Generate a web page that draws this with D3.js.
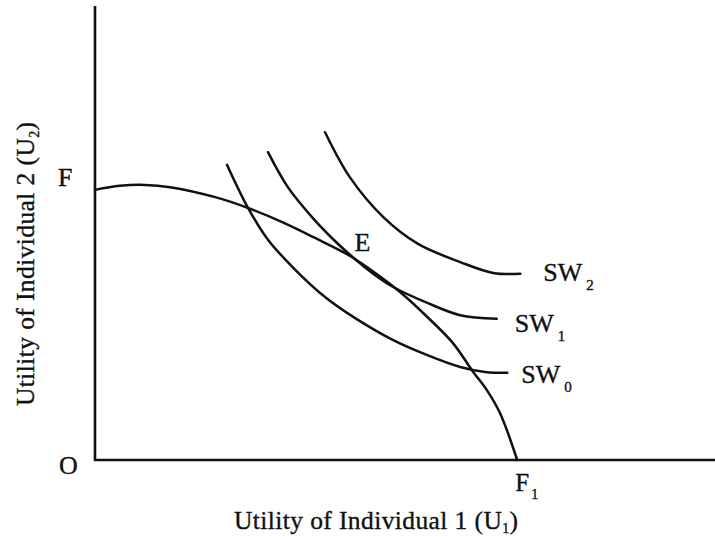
<!DOCTYPE html>
<html>
<head>
<meta charset="utf-8">
<script src="https://cdn.jsdelivr.net/npm/d3@7"></script>
<style>
  html, body { margin: 0; padding: 0; background: #ffffff; }
  svg { display: block; }
  text { font-family: "Liberation Serif", "Times New Roman", serif; fill: #111; stroke: #111; stroke-width: 0.35; }
</style>
</head>
<body>
<svg id="chart" width="715" height="537"></svg>
<script>
// ---- Data (utility units, 0..100 on each axis) ----
const frontierU1 = [0, 4.0, 8.1, 12.1, 19.4, 24.7, 30.2, 35.5, 40.8, 45.2, 49.2, 53.6, 57.7, 61.0, 63.2, 65.3, 68.1];
const frontierU2 = [59.5, 60.4, 60.6, 60.1, 57.9, 55.5, 52.4, 48.9, 45.2, 41.2, 37.0, 31.5, 25.8, 19.4, 15.4, 10.4, 0];

const sw0U1 = [21.3, 24.7, 27.9, 32.3, 37.1, 41.9, 48.1, 53.6, 58.9, 62.9, 66.5];
const sw0U2 = [65.0, 55.5, 48.5, 41.9, 35.9, 31.3, 26.4, 23.1, 20.5, 19.4, 19.2];

const sw1U1 = [27.9, 31.1, 35.0, 38.2, 40.8, 44.7, 48.1, 53.6, 58.9, 64.8];
const sw1U2 = [67.8, 60.1, 53.5, 48.9, 45.6, 41.2, 38.1, 34.6, 31.9, 31.1];

const sw2U1 = [37.1, 41.1, 46.5, 52.1, 58.9, 64.2, 68.6];
const sw2U2 = [72.2, 62.3, 53.5, 47.6, 43.6, 41.2, 41.0];

const curveNames = ["SW", "SW", "SW"];
const curveSubs = ["0", "1", "2"];

const pointE = [41.2, 44.7];
const xTitle = "Utility of Individual 1 (U";
const xTitleSub = "1";
const yTitle = "Utility of Individual 2 (U";
const yTitleSub = "2";

// ---- Scales ----
const svg = d3.select("#chart");
const x = d3.scaleLinear().domain([0, 100]).range([95, 715]);
const y = d3.scaleLinear().domain([0, 100]).range([460, 6]);

const zip = (a, b) => a.map((v, i) => [v, b[i]]);
const line = d3.line()
  .x(d => x(d[0]))
  .y(d => y(d[1]))
  .curve(d3.curveCatmullRom.alpha(0.5));

// ---- Axes (plain lines, no ticks) ----
const ax = svg.append("g").attr("stroke", "#111").attr("stroke-width", 2.6).attr("fill", "none");
ax.append("line").attr("x1", x(0)).attr("x2", x(0)).attr("y1", y(0) + 1).attr("y2", y(100));
ax.append("line").attr("x1", x(0) - 1).attr("x2", x(100)).attr("y1", y(0)).attr("y2", y(0));

// ---- Curves ----
const g = svg.append("g").attr("fill", "none").attr("stroke", "#111")
  .attr("stroke-width", 2.5).attr("stroke-linecap", "round");
g.append("path").attr("d", line(zip(frontierU1, frontierU2)));
const swData = [zip(sw0U1, sw0U2), zip(sw1U1, sw1U2), zip(sw2U1, sw2U2)];
swData.forEach(d => g.append("path").attr("d", line(d)));

// ---- Labels ----
function label(px, py, main, sub, size, subSize, subDy, subDx) {
  const t = svg.append("text").attr("x", px).attr("y", py).attr("font-size", size);
  t.append("tspan").text(main);
  if (sub) {
    t.append("tspan").attr("dx", subDx).attr("dy", subDy).attr("font-size", subSize).text(sub);
  }
  return t;
}

// SW labels, anchored at curve ends
const swOffsets = [[14, 10], [18, 13], [23, 7]];
swData.forEach((d, i) => {
  const end = d[d.length - 1];
  label(x(end[0]) + swOffsets[i][0], y(end[1]) + swOffsets[i][1], curveNames[i], curveSubs[i], 26, 15, 9, 4);
});

// Point labels
label(x(0) - 37, y(60.4) + 0, "F", null, 26);
label(x(0) - 36, y(0) + 14, "O", null, 26);
label(x(pointE[0]) + 4, y(pointE[1]) - 6, "E", null, 26);
label(x(frontierU1[frontierU1.length - 1]) - 2, y(0) + 31, "F", "1", 25, 14, 8, 2);

// Axis titles
const xt = svg.append("text").attr("x", 234).attr("y", 529).attr("font-size", 25.5)
  .attr("letter-spacing", 0.4);
xt.append("tspan").text(xTitle);
xt.append("tspan").attr("dy", 4).attr("font-size", 14).text(xTitleSub);
xt.append("tspan").attr("dy", -4).text(")");

const yt = svg.append("text").attr("transform", "translate(34,406) rotate(-90)").attr("font-size", 25.5)
  .attr("letter-spacing", 0.4);
yt.append("tspan").text(yTitle);
yt.append("tspan").attr("dy", 5).attr("font-size", 14).text(yTitleSub);
yt.append("tspan").attr("dy", -5).text(")");
</script>
</body>
</html>
